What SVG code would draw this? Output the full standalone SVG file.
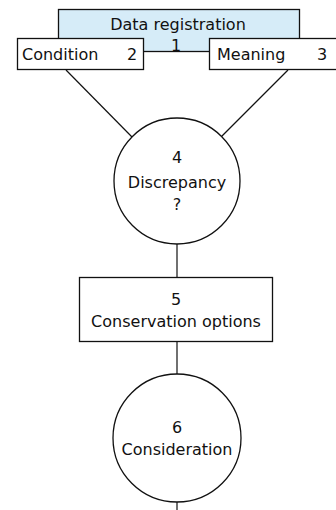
<svg xmlns="http://www.w3.org/2000/svg" width="336" height="510" viewBox="0 0 336 510">
<style>
text{font-family:"DejaVu Sans",Verdana,sans-serif;font-size:16px;fill:#111}
.c{text-anchor:middle}
.b{fill:#fff;stroke:#111;stroke-width:1.3}
.l{stroke:#111;stroke-width:1.2;fill:none}
</style>
<rect width="336" height="510" fill="#fff"/>
<g id="connectors">
<line class="l" x1="66" y1="70" x2="132" y2="137"/>
<line class="l" x1="288" y1="70" x2="221" y2="137"/>
<line class="l" x1="177" y1="244" x2="177" y2="277"/>
<line class="l" x1="177" y1="342" x2="177" y2="374"/>
<line class="l" x1="177" y1="502" x2="177" y2="510"/>
</g>
<g id="n1">
<rect x="58.5" y="9.5" width="241" height="42" fill="#d6ecf8"/>
<text class="c" x="178" y="30">Data registration</text>
<text class="c" x="176" y="51">1</text>
<rect x="58.5" y="9.5" width="241" height="42" fill="none" stroke="#111" stroke-width="1.3"/>
</g>
<g id="n2">
<rect class="b" x="17.5" y="38.5" width="126" height="31"/>
<text x="22" y="60">Condition</text>
<text x="127" y="60">2</text>
</g>
<g id="n3">
<rect class="b" x="209.5" y="38.5" width="140" height="31"/>
<text x="217" y="60">Meaning</text>
<text x="317" y="60">3</text>
</g>
<g id="n4">
<circle class="b" cx="177" cy="181" r="63"/>
<text class="c" x="177" y="163">4</text>
<text class="c" x="177" y="188">Discrepancy</text>
<text class="c" x="177" y="210">?</text>
</g>
<g id="n5">
<rect class="b" x="79.5" y="277.5" width="193" height="64"/>
<text class="c" x="176" y="305">5</text>
<text class="c" x="176" y="327">Conservation options</text>
</g>
<g id="n6">
<circle class="b" cx="177" cy="438" r="64"/>
<text class="c" x="177" y="433">6</text>
<text class="c" x="177" y="455">Consideration</text>
</g>
</svg>
